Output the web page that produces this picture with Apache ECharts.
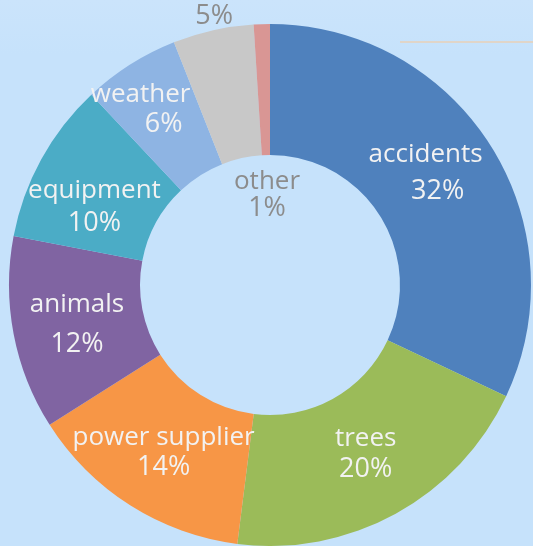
<!DOCTYPE html>
<html><head><meta charset="utf-8">
<script src="https://cdn.jsdelivr.net/npm/echarts@6/dist/echarts.min.js"></script>
<style>html,body{margin:0;padding:0;background:#c6e2fb;}#c{width:533px;height:546px;}</style>
</head><body><div id="c"></div>
<script>
const categories = ['accidents','trees','power supplier','animals','equipment','weather','unknown','other'];
const values = [32,20,14,12,10,6,5,1];
const colors = ['#4f81bd','#9bbb59','#f79646','#8064a2','#4bacc6','#8eb4e3','#c8c8c8','#d99694'];
const percentLabels = ['32%','20%','14%','12%','10%','6%','5%','1%'];

const chart = echarts.init(document.getElementById('c'));
const font = 'Open Sans';
const lh =     [37,31,30,40,33,29,29,27];
const shift =  [-6,-5, 0, 2, 0,-8, 3, 5];
const nameDx = [-12,0, 0, 2, 0,-23, 8, 0];
const pctDx =  [ 0, 0, 0, 2, 0, 0, 8, 0];
const white = '#f2f2f2', grey = '#8c8c8c';
function richFor(i, color){
  const sv = Math.max(1, 2*Math.abs(shift[i]));
  return {
    n:{color:color, fontFamily:font, fontSize:26, lineHeight:lh[i]},
    p:{color:color, fontFamily:font, fontSize:27, lineHeight:lh[i]},
    sp:{fontSize:1, lineHeight:sv, height:sv},
    hn:{fontSize:1, width:Math.max(1, 2*Math.abs(nameDx[i]))},
    hp:{fontSize:1, width:Math.max(1, 2*Math.abs(pctDx[i]))}
  };
}
function line(tok, text, dx, h){
  const core = '{' + tok + '|' + text + '}';
  if (dx > 0) return '{' + h + '| }' + core;
  if (dx < 0) return core + '{' + h + '| }';
  return core;
}
function fmt(p){
  const i = categories.indexOf(p.name), d = shift[i];
  let s = line('n', p.name, nameDx[i], 'hn') + '\n' + line('p', percentLabels[i], pctDx[i], 'hp');
  if (d > 0) s = '{sp| }\n' + s;
  if (d < 0) s = s + '\n{sp| }';
  return s;
}
function makeData(showIdx, color, transparent){
  return categories.map((n,i)=>({
    name:n, value:values[i],
    itemStyle:{color: transparent ? 'transparent' : colors[i]},
    label:{show: showIdx.includes(i), rich: richFor(i, color)}
  }));
}
const total = values.reduce((a,b)=>a+b,0);
const common = {type:'pie', center:[270,285], startAngle:90, clockwise:true,
  labelLine:{show:false}};
// label host for narrow slices: a wide invisible sector centred on the slice's mid-angle (plus a small angular nudge)
function hostSeries(idx, dAngle, rMid){
  const before = values.slice(0,idx).reduce((a,b)=>a+b,0);
  const midCW = 360*(before + values[idx]/2)/total + dAngle;
  return Object.assign({}, common, {radius:[rMid-130, rMid+130], silent:true, startAngle:(90 - midCW) + 90,
    data:[
      {name:categories[idx], value:1, itemStyle:{color:'transparent'}, label:{show:true, rich:richFor(idx, white)}},
      {name:'', value:1, itemStyle:{color:'transparent'}, label:{show:false}}
    ],
    label:{position:'inside', formatter:fmt}});
}
chart.setOption({
  backgroundColor: {type:'linear',x:0,y:0,x2:0,y2:1,colorStops:[{offset:0,color:'#cbe4fb'},{offset:0.1,color:'#c6e2fb'},{offset:1,color:'#c6e2fb'}]},
  animation:false,
  graphic:[{type:'line', z:-1, shape:{x1:400,y1:42,x2:533,y2:42}, style:{stroke:'#e0d5c8', lineWidth:2}}],
  series:[
    Object.assign({}, common, {radius:[130,261], data: makeData([0,1,2,3], white, false),
      label:{position:'inside', formatter:fmt}}),
    hostSeries(4, -4.9, 189),
    hostSeries(5, 0, 195.5),
    Object.assign({}, common, {radius:[261,319], silent:true, data: makeData([6], grey, true),
      label:{position:'inside', formatter:fmt}}),
    Object.assign({}, common, {radius:[60,124], silent:true, data: makeData([7], grey, true),
      label:{position:'inside', formatter:fmt}})
  ]
});
</script></body></html>
